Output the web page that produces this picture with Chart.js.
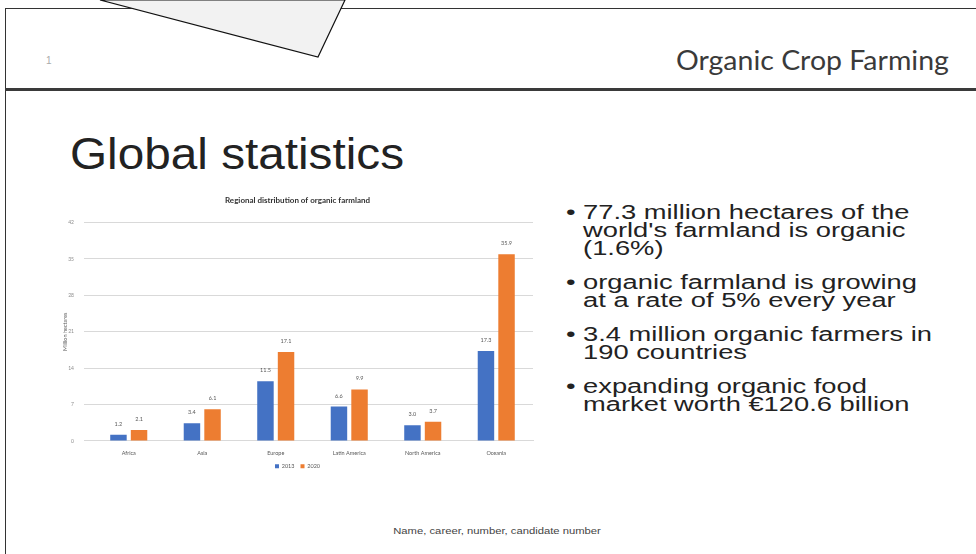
<!DOCTYPE html>
<html>
<head>
<meta charset="utf-8">
<script src="https://cdn.jsdelivr.net/npm/chart.js@4"></script>
<style>
  html, body { margin:0; padding:0; background:#fff; }
  body { width:976px; height:554px; position:relative; overflow:hidden; font-family:"Liberation Sans", Arial, sans-serif; }
  .abs { position:absolute; }
  #frameTop { left:5px; top:8px; width:971px; height:0; border-top:1.5px solid #333; }
  #frameLeft { left:5px; top:8px; width:0; height:546px; border-left:1.5px solid #333; }
  #rule { left:5px; top:88px; width:971px; height:3px; background:#3a3a3a; }
  #header { left:676px; top:43px; font-family:Lato, "Open Sans", sans-serif; font-size:27px; color:#3a3a3a; white-space:nowrap; transform-origin:left top; transform:scaleX(1.055); }
  #pagenum { left:46px; top:55px; font-size:10px; color:#aaa; }
  #title { left:70px; top:128px; font-size:45px; color:#222; white-space:nowrap; transform-origin:left top; transform:scaleX(1.06); }
  #bullets { left:566px; top:203px; font-size:20px; line-height:18px; color:#222; white-space:nowrap; transform-origin:left top; transform:scaleX(1.365); }
  #bullets .b { position:relative; padding-left:12.5px; margin-bottom:16px; }
  #bullets .b:before { content:"•"; position:absolute; left:0; top:0; }
  #footer { left:0; width:976px; top:526px; text-align:center; font-size:9px; color:#444; padding-left:18px; box-sizing:border-box; }
  #footer span { display:inline-block; transform:scaleX(1.25); }
  #chartBox { left:60px; top:190px; width:480px; height:289px; }
</style>
</head>
<body>
<div class="abs" id="frameTop"></div>
<div class="abs" id="frameLeft"></div>
<div class="abs" id="rule"></div>
<svg class="abs" style="left:0;top:0" width="976" height="100">
  <polygon points="100,0 318,57 345,0" fill="#f2f2f2" stroke="#111" stroke-width="1.2"/>
</svg>
<div class="abs" id="pagenum">1</div>
<div class="abs" id="header">Organic Crop Farming</div>
<div class="abs" id="title">Global statistics</div>
<div class="abs" id="bullets">
  <div class="b">77.3 million hectares of the<br>world's farmland is organic<br>(1.6%)</div>
  <div class="b">organic farmland is growing<br>at a rate of 5% every year</div>
  <div class="b">3.4 million organic farmers in<br>190 countries</div>
  <div class="b">expanding organic food<br>market worth €120.6 billion</div>
</div>
<div class="abs" id="chartBox"><canvas id="c" width="480" height="289"></canvas></div>
<div class="abs" id="footer"><span>Name, career, number, candidate number</span></div>

<script>
const categories = ["Africa", "Asia", "Europe", "Latin America", "North America", "Oceania"];
const seriesNames = ["2013", "2020"];
const values2013 = [1.2, 3.4, 11.5, 6.6, 3.0, 17.3];
const values2020 = [2.1, 6.1, 17.1, 9.9, 3.7, 35.9];
const yTicks = [0, 7, 14, 21, 28, 35, 42];

const valueLabels = {
  id: 'valueLabels',
  afterDatasetsDraw(chart) {
    const ctx = chart.ctx;
    ctx.save();
    ctx.font = '5.5px Lato, sans-serif';
    ctx.fillStyle = '#595959';
    ctx.textAlign = 'center';
    ctx.textBaseline = 'bottom';
    chart.data.datasets.forEach((ds, i) => {
      chart.getDatasetMeta(i).data.forEach((bar, j) => {
        ctx.fillText(ds.data[j].toFixed(1), bar.x, bar.y - 8);
      });
    });
    ctx.restore();
  }
};

new Chart(document.getElementById('c'), {
  type: 'bar',
  data: {
    labels: categories,
    datasets: [
      { label: seriesNames[0], data: values2013, backgroundColor: '#4472C4', categoryPercentage: 0.56, barPercentage: 0.8 },
      { label: seriesNames[1], data: values2020, backgroundColor: '#ED7D31', categoryPercentage: 0.56, barPercentage: 0.8 }
    ]
  },
  options: {
    responsive: false,
    animation: false,
    devicePixelRatio: 1,
    layout: { padding: { left: 2, right: 7, top: 0, bottom: 0 } },
    plugins: {
      title: { display: true, text: 'Regional distribution of organic farmland', color: '#333', font: { family: 'Lato, sans-serif', size: 8, weight: 'bold' }, padding: { top: 6, bottom: 17 } },
      legend: { position: 'bottom', labels: { boxWidth: 4, boxHeight: 4, color: '#595959', font: { family: 'Lato, sans-serif', size: 5.5 }, padding: 6 } },
      tooltip: { enabled: false }
    },
    scales: {
      x: {
        grid: { display: false },
        border: { color: '#d9d9d9' },
        ticks: { color: '#595959', font: { family: 'Lato, sans-serif', size: 5.5 }, padding: 1 }
      },
      y: {
        min: yTicks[0], max: yTicks[yTicks.length - 1],
        afterBuildTicks: (s) => { s.ticks = yTicks.map(v => ({ value: v })); },
        afterFit: (s) => { s.width = 30; },
        grid: { color: '#d9d9d9' },
        border: { display: false },
        ticks: { color: '#8c8c8c', font: { family: 'Lato, sans-serif', size: 5 }, padding: 10 },
        title: { display: true, text: 'Million hectares', color: '#595959', font: { family: 'Lato, sans-serif', size: 5.5 }, padding: 0 }
      }
    }
  },
  plugins: [valueLabels]
});
</script>
</body>
</html>
